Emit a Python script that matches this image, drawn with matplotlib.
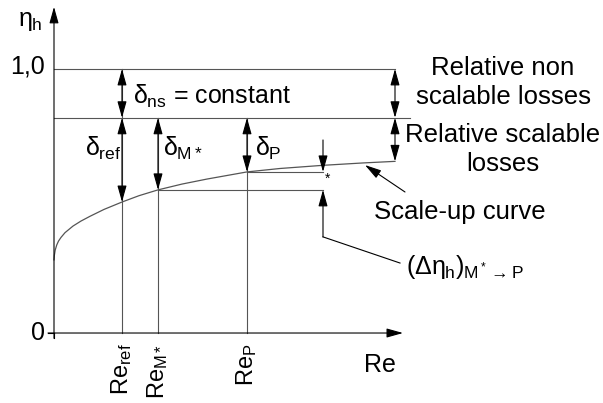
import numpy as np
import matplotlib
matplotlib.use("Agg")
from matplotlib import pyplot as plt

plt.rcParams['font.family'] = ['Liberation Sans', 'DejaVu Sans']
plt.rcParams['mathtext.fontset'] = 'custom'
plt.rcParams['mathtext.rm'] = 'Liberation Sans'
plt.rcParams['mathtext.it'] = 'Liberation Sans'
plt.rcParams['mathtext.sf'] = 'Liberation Sans'

# levels (eta_h)
eta_max = 1.0
eta_scal = 0.815          # top of scalable losses

# Reynolds positions
re_ref = 0.68
re_m = 1.04
re_p = 1.93
re_end = 3.41

# scale-up curve
curve_x = [0.0, 0.004, 0.012, 0.027, 0.045, 0.07, 0.11, 0.19, 0.27, 0.36, 0.50,
           0.68, 0.85, 1.04, 1.28, 1.53, 1.93, 2.26, 2.69, 3.09, 3.41]
curve_y = [0.277, 0.295, 0.314, 0.333, 0.348, 0.362, 0.380, 0.405, 0.424, 0.442, 0.468,
           0.496, 0.520, 0.542, 0.564, 0.583, 0.610, 0.623, 0.635, 0.644, 0.650]

eta_m = 0.542
eta_p = 0.610
eta_end = 0.650

gray = '#555555'
AS = '<|-|>,head_length=1.0,head_width=0.28'
S1 = '-|>,head_length=1.0,head_width=0.28'


def darrow(ax, x0, y0, x1, y1, style=AS):
    ax.annotate('', xy=(x1, y1), xytext=(x0, y0),
                arrowprops=dict(arrowstyle=style, color='k', lw=0.8,
                                shrinkA=0, shrinkB=0))


fig = plt.figure(figsize=(6.03, 4.03), dpi=100)
ax = fig.add_axes([0, 0, 1, 1])
ax.set_xlim(-0.54, 5.49)
ax.set_ylim(-0.265, 1.261)
ax.axis('off')

# axes with arrows
ax.annotate('', xy=(3.49, 0), xytext=(-0.06, 0),
            arrowprops=dict(arrowstyle=S1, color='k', lw=0.8, shrinkA=0, shrinkB=0))
ax.annotate('', xy=(0, 1.235), xytext=(0, -0.02),
            arrowprops=dict(arrowstyle=S1, color='k', lw=0.8, shrinkA=0, shrinkB=0))

# horizontal level lines
ax.plot([0, re_end], [eta_max, eta_max], color=gray, lw=0.8)
ax.plot([0, 3.56], [eta_scal, eta_scal], color=gray, lw=0.8)
ax.plot([re_m, 2.69], [eta_m, eta_m], color=gray, lw=0.8)
ax.plot([re_p, 2.69], [eta_p, eta_p], color=gray, lw=0.8)

# vertical Re lines
ax.plot([re_ref, re_ref], [0, eta_max], color=gray, lw=0.8)
ax.plot([re_m, re_m], [0, eta_scal], color=gray, lw=0.8)
ax.plot([re_p, re_p], [0, eta_scal], color=gray, lw=0.8)

# scale-up curve
ax.plot(curve_x, curve_y, color=gray, lw=0.9)

# delta arrows
darrow(ax, re_ref, eta_max, re_ref, eta_scal)
darrow(ax, re_ref, eta_scal, re_ref, 0.496)
darrow(ax, re_m, eta_scal, re_m, eta_m)
darrow(ax, re_p, eta_scal, re_p, eta_p)
darrow(ax, re_end, eta_max, re_end, eta_scal)
darrow(ax, re_end, eta_scal, re_end, eta_end)

# delta eta arrows
darrow(ax, 2.69, 0.731, 2.69, eta_p, S1)
darrow(ax, 2.69, 0.364, 2.69, eta_m, S1)
ax.plot([2.69, 3.46], [0.364, 0.265], color='k', lw=0.8)
ax.text(2.74, 0.585, '*', fontsize=10, ha='center', va='center')

# scale-up curve pointer
darrow(ax, 3.51, 0.534, 3.11, 0.636, S1)

fs = 18
ax.text(0.79, 0.895, r'$\delta_{\rm ns}$ = constant', fontsize=fs, va='center')
ax.text(0.31, 0.70, r'$\delta_{\rm ref}$', fontsize=fs, va='center')
ax.text(1.09, 0.70, r'$\delta_{\rm M*}$', fontsize=fs, va='center')
ax.text(2.01, 0.70, r'$\delta_{\rm P}$', fontsize=fs, va='center')

ax.text(-0.09, eta_max + 0.01, '1,0', fontsize=fs, ha='right', va='center')
ax.text(-0.09, 0, '0', fontsize=fs, ha='right', va='center')
ax.plot([-0.06, 0], [0, 0], color='k', lw=0.8)
ax.plot([0, 0], [0, -0.02], color='k', lw=0.8)
ax.text(-0.24, 1.18, r'$\eta_{\rm h}$', fontsize=fs, ha='center', va='center')

# Re tick labels
for xr, sub in [(re_ref, 'ref'), (re_m, 'M*'), (re_p, 'P')]:
    ax.text(xr, -0.04, 'Re$_{\\rm ' + sub + '}$', fontsize=17, rotation=90,
            ha='center', va='top')
ax.text(3.26, -0.12, 'Re', fontsize=fs, ha='center', va='center')

fr = 18.5
ax.text(4.49, 1.005, 'Relative non', fontsize=fr, ha='center', va='center')
ax.text(4.49, 0.895, 'scalable losses', fontsize=fr, ha='center', va='center')
ax.text(4.49, 0.75, 'Relative scalable', fontsize=fr, ha='center', va='center')
ax.text(4.49, 0.64, 'losses', fontsize=fr, ha='center', va='center')
ax.text(4.06, 0.46, 'Scale-up curve', fontsize=fr, ha='center', va='center')
ax.text(3.52, 0.25, r'$(\Delta\eta_{\rm h})_{\rm M^*\rightarrow P}$', fontsize=18,
        ha='left', va='center')

fig.savefig('out.png', dpi=100)
